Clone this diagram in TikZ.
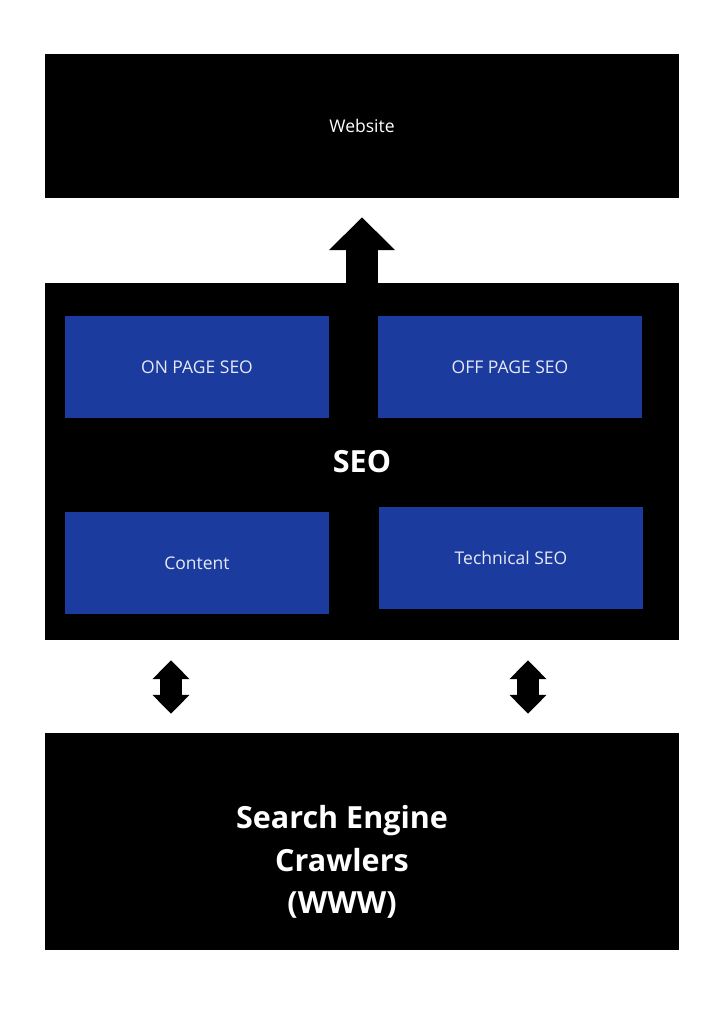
\documentclass[tikz,border=0pt]{standalone}
\usepackage{fontspec}
\setmainfont{Open Sans}
\definecolor{SeoBlack}{HTML}{000000}
\definecolor{SeoWhite}{HTML}{ffffff}
\definecolor{SeoBlue}{HTML}{1C3B9E}
\definecolor{SeoPale}{HTML}{E6EAF6}
\usetikzlibrary{arrows.meta,positioning,calc}
\tikzset{
    % Base box style
    basebox/.style={
        draw=none,
        inner sep=0pt,
        align=center,
        text=SeoWhite
    },
    % Outer black block
    blockbox/.style={
        basebox,
        fill=SeoBlack,
        minimum width=634pt
    },
    % Inner blue box
    seobox/.style={
        basebox,
        fill=SeoBlue,
        text=SeoPale,
        minimum width=264pt,
        minimum height=102pt,
        font=\fontsize{17.5}{21}\selectfont
    },
    % Thick up arrow
    uparrow/.style={
        -{Triangle[width=64pt,length=33pt]},
        line width=32pt,
        draw=SeoBlack
    },
    % Thick two-way arrow
    twoarrow/.style={
        {Triangle[width=36pt,length=19pt]}-{Triangle[width=36pt,length=19pt]},
        line width=22pt,
        draw=SeoBlack
    }
}
\begin{document}
\begin{tikzpicture}[x=1pt, y=-1pt]
    \useasboundingbox (0,0) rectangle (724,1024);
    \node[blockbox, minimum height=144pt, font=\fontsize{17.5}{21}\selectfont] (web) at (362,126) {Website};
    \node[blockbox, minimum height=357pt, font=\fontsize{30.5}{36}\selectfont\bfseries] (seo) at (362,461.5) {SEO};
    \node[seobox] (onpage) at (197,367) {ON PAGE SEO};
    \node[seobox] (offpage) at (510,367) {OFF PAGE SEO};
    \node[seobox] (content) at (197,563) {Content};
    \node[seobox] (tech) at (511,558) {Technical SEO};
    \node[blockbox, minimum height=217pt] (crawl) at (362,841.5) {};
    \node[basebox, font=\fontsize{30.5}{42.5}\selectfont\bfseries] (crawltext) at (342,862) {Search Engine\\Crawlers\\(WWW)};

    \draw[uparrow, shorten >=19pt] (seo.north) -- (web.south);
    \draw[twoarrow, shorten <=20pt, shorten >=19pt] ([xshift=-191pt]seo.south) -- ([xshift=-191pt]crawl.north);
    \draw[twoarrow, shorten <=20pt, shorten >=19pt] ([xshift=166pt]seo.south) -- ([xshift=166pt]crawl.north);
\end{tikzpicture}
\end{document}
